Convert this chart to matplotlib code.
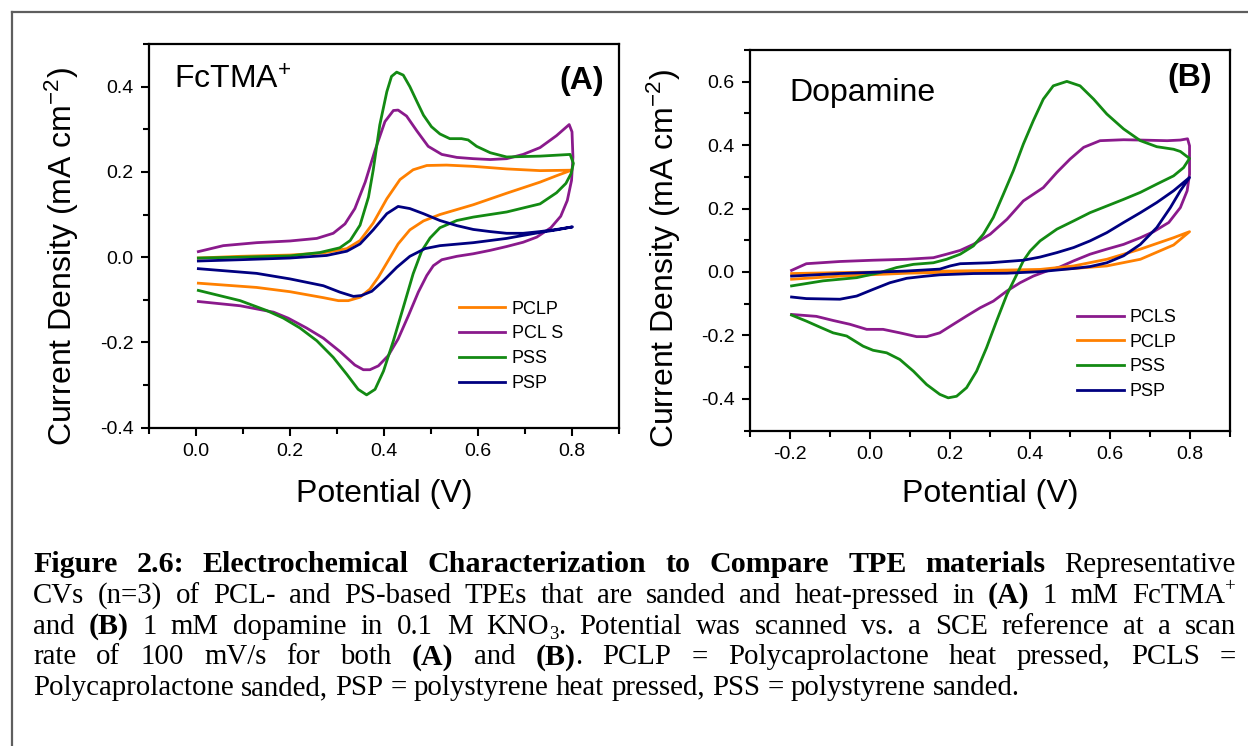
import matplotlib.pyplot as plt
from matplotlib.ticker import MultipleLocator, FormatStrFormatter
from matplotlib.lines import Line2D
from matplotlib.transforms import IdentityTransform

plt.rcParams['font.family'] = ['Liberation Sans', 'DejaVu Sans']
plt.rcParams['mathtext.fontset'] = 'custom'
plt.rcParams['mathtext.rm'] = 'Liberation Sans'
plt.rcParams['mathtext.it'] = 'Liberation Sans:italic'
plt.rcParams['mathtext.bf'] = 'Liberation Sans:bold'
plt.rcParams['axes.unicode_minus'] = False

# (A) 1 mM FcTMA+ : potential (V) and current density (mA cm-2), forward then reverse sweep
a_pclp_e = [0.005, 0.094, 0.200, 0.271, 0.321, 0.349, 0.377, 0.406, 0.434, 0.462, 0.491, 0.533,
            0.590, 0.661, 0.732, 0.799,
            0.767, 0.732, 0.661, 0.590, 0.519, 0.484, 0.455, 0.430, 0.409, 0.388, 0.370, 0.349,
            0.324, 0.303, 0.271, 0.200, 0.129, 0.005]
a_pclp_j = [-0.002, 0.002, 0.005, 0.010, 0.020, 0.039, 0.080, 0.137, 0.182, 0.205, 0.215, 0.216,
            0.213, 0.207, 0.203, 0.204,
            0.191, 0.176, 0.150, 0.123, 0.100, 0.085, 0.064, 0.031, -0.008, -0.047, -0.075, -0.094,
            -0.102, -0.102, -0.095, -0.081, -0.071, -0.061]

a_pcls_e = [0.005, 0.058, 0.129, 0.200, 0.257, 0.292, 0.317, 0.338, 0.360, 0.381, 0.402, 0.420,
            0.430, 0.448, 0.470, 0.494, 0.523, 0.555, 0.590, 0.626, 0.661, 0.696, 0.732, 0.767, 0.794,
            0.800, 0.802, 0.799, 0.790, 0.776, 0.755, 0.725, 0.696, 0.661, 0.626, 0.590, 0.555,
            0.523, 0.505, 0.491, 0.473, 0.452, 0.430, 0.409, 0.388, 0.370, 0.356, 0.338, 0.306,
            0.271, 0.235, 0.196, 0.165, 0.094, 0.005]
a_pcls_j = [0.013, 0.027, 0.034, 0.038, 0.044, 0.056, 0.078, 0.114, 0.176, 0.251, 0.318, 0.344,
            0.345, 0.331, 0.296, 0.260, 0.241, 0.234, 0.231, 0.229, 0.231, 0.241, 0.257, 0.285, 0.311,
            0.294, 0.235, 0.180, 0.133, 0.096, 0.069, 0.047, 0.035, 0.025, 0.016, 0.008, 0.002,
            -0.006, -0.020, -0.043, -0.082, -0.137, -0.192, -0.231, -0.255, -0.264, -0.264, -0.253,
            -0.221, -0.190, -0.166, -0.143, -0.129, -0.114, -0.104]

a_pss_e = [0.005, 0.094, 0.200, 0.264, 0.306, 0.328, 0.349, 0.367, 0.377, 0.391, 0.406, 0.416,
           0.427, 0.441, 0.455, 0.470, 0.484, 0.501, 0.519, 0.540, 0.565, 0.579, 0.597, 0.626,
           0.661, 0.732, 0.796,
           0.803, 0.798, 0.787, 0.767, 0.732, 0.661, 0.590, 0.555, 0.519, 0.498, 0.480, 0.462,
           0.441, 0.420, 0.399, 0.381, 0.363, 0.345, 0.321, 0.292, 0.257, 0.221, 0.186, 0.150,
           0.094, 0.005]
a_pss_j = [-0.002, 0.000, 0.003, 0.011, 0.022, 0.039, 0.075, 0.141, 0.204, 0.310, 0.388, 0.424,
           0.434, 0.427, 0.400, 0.365, 0.333, 0.306, 0.289, 0.278, 0.278, 0.275, 0.260, 0.245,
           0.235, 0.237, 0.241,
           0.220, 0.196, 0.173, 0.151, 0.125, 0.106, 0.094, 0.086, 0.069, 0.045, 0.014, -0.039,
           -0.118, -0.196, -0.267, -0.310, -0.323, -0.310, -0.275, -0.235, -0.196, -0.166, -0.143,
           -0.125, -0.102, -0.078]

a_psp_e = [0.005, 0.094, 0.200, 0.278, 0.321, 0.349, 0.377, 0.406, 0.430, 0.455, 0.484, 0.519,
           0.555, 0.590, 0.626, 0.661, 0.696, 0.732, 0.767, 0.801,
           0.767, 0.732, 0.696, 0.661, 0.590, 0.519, 0.487, 0.455, 0.427, 0.399, 0.374, 0.352,
           0.335, 0.306, 0.271, 0.200, 0.129, 0.005]
a_psp_j = [-0.009, -0.006, -0.002, 0.004, 0.014, 0.031, 0.064, 0.102, 0.119, 0.114, 0.102, 0.086,
           0.074, 0.065, 0.060, 0.056, 0.056, 0.060, 0.065, 0.071,
           0.064, 0.058, 0.051, 0.044, 0.034, 0.027, 0.020, 0.002, -0.024, -0.055, -0.080, -0.090,
           -0.092, -0.082, -0.067, -0.051, -0.038, -0.027]

# (B) 1 mM dopamine
b_pcls_e = [-0.196, -0.159, -0.075, 0.008, 0.092, 0.159, 0.192, 0.226, 0.259, 0.301, 0.343, 0.384,
            0.409, 0.434, 0.468, 0.501, 0.535, 0.576, 0.635, 0.677, 0.744, 0.777, 0.795,
            0.800, 0.800, 0.794, 0.777, 0.748, 0.710, 0.677, 0.635, 0.593, 0.551, 0.510, 0.476,
            0.443, 0.409, 0.376, 0.343, 0.309, 0.276, 0.242, 0.209, 0.175, 0.142, 0.117, 0.075,
            0.033, -0.008, -0.050, -0.092, -0.134, -0.196]
b_pcls_j = [0.005, 0.026, 0.033, 0.037, 0.040, 0.045, 0.056, 0.068, 0.087, 0.119, 0.166, 0.224,
            0.245, 0.266, 0.314, 0.356, 0.393, 0.414, 0.417, 0.416, 0.414, 0.416, 0.420,
            0.398, 0.308, 0.256, 0.203, 0.156, 0.127, 0.108, 0.087, 0.072, 0.056, 0.035, 0.016,
            0.003, -0.013, -0.034, -0.060, -0.092, -0.113, -0.139, -0.165, -0.192, -0.204, -0.204,
            -0.192, -0.181, -0.181, -0.165, -0.153, -0.140, -0.134]

b_pclp_e = [-0.196, -0.075, 0.092, 0.259, 0.426, 0.510, 0.593, 0.677, 0.760, 0.800,
            0.760, 0.677, 0.593, 0.510, 0.426, 0.259, 0.092, -0.075, -0.196]
b_pclp_j = [-0.005, -0.002, 0.001, 0.004, 0.008, 0.019, 0.040, 0.072, 0.108, 0.127,
            0.085, 0.040, 0.019, 0.011, 0.005, 0.001, -0.004, -0.013, -0.023]

b_pss_e = [-0.196, -0.117, -0.033, 0.025, 0.067, 0.109, 0.159, 0.192, 0.226, 0.259, 0.284, 0.309,
           0.334, 0.359, 0.384, 0.409, 0.434, 0.459, 0.493, 0.526, 0.560, 0.593, 0.635, 0.677,
           0.718, 0.760, 0.777, 0.800,
           0.785, 0.760, 0.718, 0.677, 0.635, 0.593, 0.551, 0.510, 0.468, 0.426, 0.401, 0.384,
           0.368, 0.343, 0.317, 0.292, 0.267, 0.242, 0.217, 0.196, 0.175, 0.142, 0.109, 0.075,
           0.042, 0.008, -0.017, -0.058, -0.092, -0.125, -0.159, -0.196]
b_pss_j = [-0.044, -0.028, -0.018, -0.002, 0.014, 0.024, 0.029, 0.040, 0.056, 0.082, 0.119, 0.172,
           0.245, 0.319, 0.403, 0.477, 0.545, 0.587, 0.601, 0.587, 0.545, 0.498, 0.451, 0.414,
           0.395, 0.387, 0.380, 0.358,
           0.329, 0.303, 0.277, 0.251, 0.229, 0.208, 0.187, 0.161, 0.135, 0.098, 0.066, 0.035,
           -0.007, -0.071, -0.155, -0.239, -0.313, -0.365, -0.392, -0.397, -0.386, -0.355, -0.313,
           -0.276, -0.255, -0.247, -0.234, -0.202, -0.192, -0.174, -0.155, -0.136]

b_psp_e = [-0.196, -0.075, 0.092, 0.175, 0.201, 0.226, 0.301, 0.384, 0.426, 0.468, 0.510, 0.551,
           0.593, 0.635, 0.677, 0.718, 0.760, 0.800,
           0.777, 0.752, 0.718, 0.677, 0.635, 0.593, 0.551, 0.510, 0.426, 0.343, 0.259, 0.175,
           0.134, 0.092, 0.050, 0.008, -0.033, -0.075, -0.159, -0.196]
b_psp_j = [-0.013, -0.005, 0.003, 0.009, 0.019, 0.026, 0.029, 0.037, 0.047, 0.061, 0.077, 0.098,
           0.124, 0.156, 0.187, 0.219, 0.256, 0.298,
           0.256, 0.203, 0.140, 0.087, 0.051, 0.029, 0.017, 0.011, 0.001, -0.004, -0.005, -0.009,
           -0.014, -0.020, -0.034, -0.055, -0.076, -0.086, -0.084, -0.079]

ORANGE = '#ff8000'
PURPLE = '#8a1a8c'
GREEN = '#138a13'
NAVY = '#000080'

CAPTION = [
    "**Figure 2.6: Electrochemical Characterization to Compare TPE materials** Representative",
    "CVs (n=3) of PCL- and PS-based TPEs that are sanded and heat-pressed in **(A)** 1 mM FcTMA^+",
    "and **(B)** 1 mM dopamine in 0.1 M KNO_3. Potential was scanned vs. a SCE reference at a scan",
    "rate of 100 mV/s for both **(A)** and **(B)**. PCLP = Polycaprolactone heat pressed, PCLS =",
    "Polycaprolactone sanded, PSP = polystyrene heat pressed, PSS = polystyrene sanded.",
]
CAP_SIZE = 20.8
BOLD_SCALE = 1.04
CAP_LEFT, CAP_RIGHT = 33, 1236
CAP_BASE, CAP_STEP = 572, 30.8

W, H = 1248, 746
fig = plt.figure(figsize=(W / 100, H / 100), dpi=100)


def style_axes(ax, xlim, ylim):
    ax.set_xlim(*xlim)
    ax.set_ylim(*ylim)
    ax.xaxis.set_major_locator(MultipleLocator(0.2))
    ax.xaxis.set_minor_locator(MultipleLocator(0.1))
    ax.yaxis.set_major_locator(MultipleLocator(0.2))
    ax.yaxis.set_minor_locator(MultipleLocator(0.1))
    ax.xaxis.set_major_formatter(FormatStrFormatter('%.1f'))
    ax.yaxis.set_major_formatter(FormatStrFormatter('%.1f'))
    ax.tick_params(which='both', direction='out', width=1.5, labelsize=14,
                   top=False, right=False, pad=5)
    ax.tick_params(which='major', length=6)
    ax.tick_params(which='minor', length=4)
    for s in ax.spines.values():
        s.set_linewidth(1.6)


def cv_legend(ax, x, y):
    ax.legend(loc='upper left', bbox_to_anchor=(x, y), frameon=False, fontsize=13,
              handlelength=2.55, handletextpad=0.35, labelspacing=0.43,
              borderpad=0, borderaxespad=0)


lw = 2.0
line_kw = dict(lw=lw, solid_joinstyle='round')

# panel A
axa = fig.add_axes([149 / W, 1 - 427.7 / H, 470 / W, 383.7 / H])
axa.plot(a_pclp_e, a_pclp_j, color=ORANGE, label='PCLP', **line_kw)
axa.plot(a_pcls_e, a_pcls_j, color=PURPLE, label='PCL S', **line_kw)
axa.plot(a_pss_e, a_pss_j, color=GREEN, label='PSS', **line_kw)
axa.plot(a_psp_e, a_psp_j, color=NAVY, label='PSP', **line_kw)
style_axes(axa, (-0.1, 0.9), (-0.4, 0.5))
axa.set_xlabel('Potential (V)', fontsize=23, va='center', ha='center')
axa.xaxis.set_label_coords(0.5015, -0.173)
axa.set_ylabel('Current Density (mA cm$^{-2}$)', fontsize=23, va='center', ha='center')
axa.yaxis.set_label_coords(-0.185, 0.445)
axa.text(0.053, 0.883, 'FcTMA$^{+}$', transform=axa.transAxes, fontsize=23,
         ha='left', va='baseline')
axa.text(0.968, 0.883, '(A)', transform=axa.transAxes, fontsize=23, fontweight='bold',
         ha='right', va='baseline')
cv_legend(axa, 0.66, 0.331)

# panel B
axb = fig.add_axes([750 / W, 1 - 430.5 / H, 479.5 / W, 380.5 / H])
axb.plot(b_pcls_e, b_pcls_j, color=PURPLE, label='PCLS', **line_kw)
axb.plot(b_pclp_e, b_pclp_j, color=ORANGE, label='PCLP', **line_kw)
axb.plot(b_pss_e, b_pss_j, color=GREEN, label='PSS', **line_kw)
axb.plot(b_psp_e, b_psp_j, color=NAVY, label='PSP', **line_kw)
style_axes(axb, (-0.3, 0.9), (-0.5, 0.7))
axb.set_xlabel('Potential (V)', fontsize=23, va='center', ha='center')
axb.xaxis.set_label_coords(0.502, -0.167)
axb.set_ylabel('Current Density (mA cm$^{-2}$)', fontsize=23, va='center', ha='center')
axb.yaxis.set_label_coords(-0.18, 0.453)
axb.text(0.083, 0.866, 'Dopamine', transform=axb.transAxes, fontsize=23,
         ha='left', va='baseline')
axb.text(0.964, 0.905, '(B)', transform=axb.transAxes, fontsize=23, fontweight='bold',
         ha='right', va='baseline')
cv_legend(axb, 0.683, 0.3195)

# border around the figure block
frame_kw = dict(transform=IdentityTransform(), color='#5e5e5e', lw=1.6)
fig.add_artist(Line2D([12, W], [H - 12, H - 12], **frame_kw))
fig.add_artist(Line2D([12, 12], [0, H - 12], **frame_kw))


def split_runs(line, bold):
    words = []
    for word in line.split(' '):
        runs, buf, i = [], '', 0
        while i < len(word):
            if word.startswith('**', i):
                if buf:
                    runs.append((buf, 'bold' if bold else 'normal'))
                    buf = ''
                bold = not bold
                i += 2
            elif word[i] in '^_':
                if buf:
                    runs.append((buf, 'bold' if bold else 'normal'))
                    buf = ''
                runs.append((word[i + 1], 'sup' if word[i] == '^' else 'sub'))
                i += 2
            else:
                buf += word[i]
                i += 1
        if buf:
            runs.append((buf, 'bold' if bold else 'normal'))
        words.append(runs)
    return words, bold


renderer = fig.canvas.get_renderer()
px = CAP_SIZE * fig.dpi / 72


def make_word(runs, y):
    texts = []
    for s, kind in runs:
        size = CAP_SIZE
        if kind in ('sup', 'sub'):
            size *= 0.65
        elif kind == 'bold':
            size *= BOLD_SCALE
        dy = {'sup': 0.42, 'sub': -0.2}.get(kind, 0) * px
        t = fig.text(0, y + dy, s, transform=IdentityTransform(), fontsize=size,
                     family='Liberation Serif',
                     fontweight='bold' if kind == 'bold' else 'normal',
                     ha='left', va='baseline')
        texts.append((t, t.get_window_extent(renderer).width))
    return texts


# justified caption: every line but the last is stretched to the full width
bold = False
for n, line in enumerate(CAPTION):
    y = H - (CAP_BASE + n * CAP_STEP)
    words, bold = split_runs(line, bold)
    placed = [make_word(w, y) for w in words]
    widths = [sum(w for _, w in p) for p in placed]
    if n < len(CAPTION) - 1:
        gap = (CAP_RIGHT - CAP_LEFT - sum(widths)) / (len(words) - 1)
    else:
        gap = 0.25 * px
    x = CAP_LEFT
    for p, wd in zip(placed, widths):
        xx = x
        for t, w in p:
            t.set_x(xx)
            xx += w
        x += wd + gap

fig.savefig('out.png', dpi=100)
